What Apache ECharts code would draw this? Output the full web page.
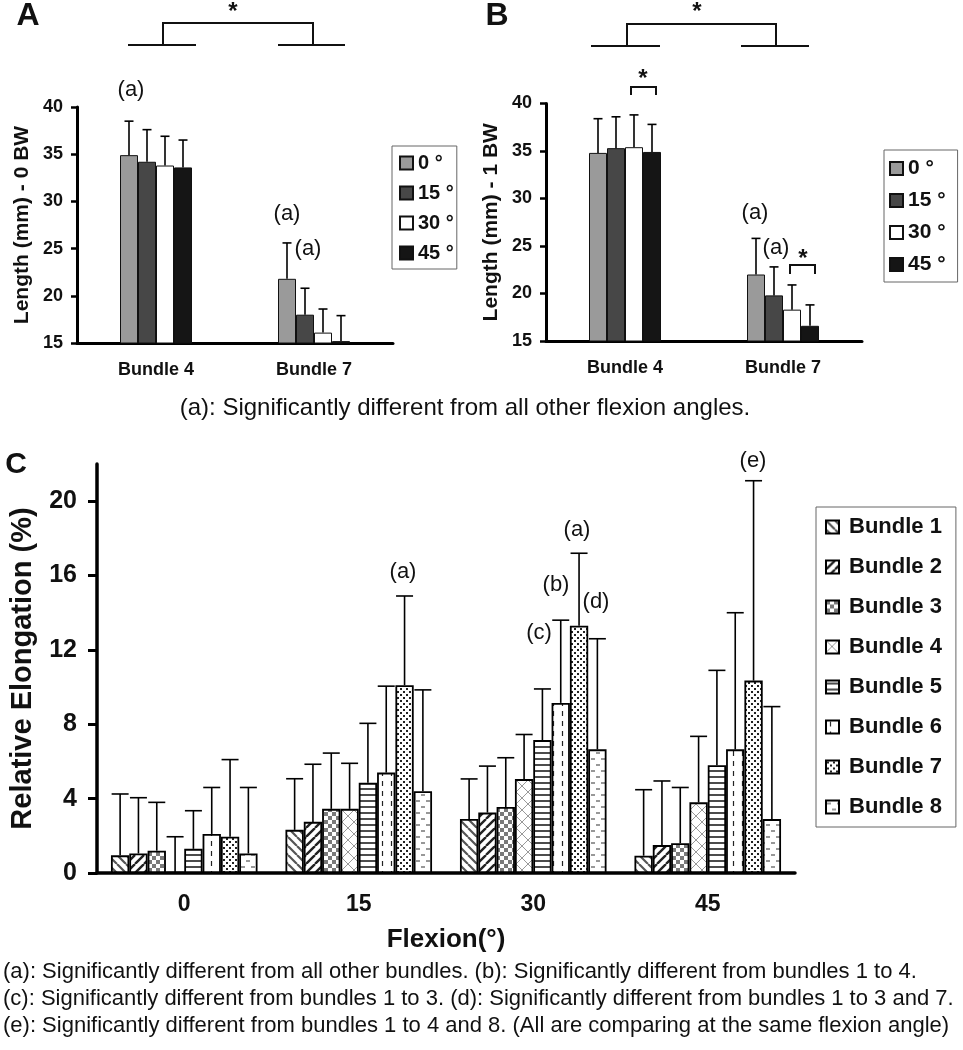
<!DOCTYPE html>
<html>
<head>
<meta charset="utf-8">
<script src="https://cdn.jsdelivr.net/npm/echarts@6/dist/echarts.min.js"></script>
<style>
  html, body { margin: 0; padding: 0; background: #fff; }
  #fig { width: 963px; height: 1050px; }
</style>
</head>
<body>
<div id="fig"></div>
<script>
// panels A / B : bundle length at each flexion angle
var angles = ['0 °', '15 °', '30 °', '45 °'];
var bundlesAB = ['Bundle 4', 'Bundle 7'];
var lenA = [[34.9, 21.8], [34.2, 18.0], [33.8, 16.1], [33.6, 15.2]];   // 0 BW
var sdA  = [[3.6, 3.8], [3.4, 2.8], [3.1, 2.5], [2.9, 2.7]];
var lenB = [[34.8, 22.0], [35.3, 19.8], [35.4, 18.3], [34.9, 16.6]];   // 1 BW
var sdB  = [[3.6, 3.8], [3.3, 3.0], [3.4, 2.6], [2.9, 2.2]];
var angleColors = ['#9a9a9a', '#474747', '#ffffff', '#151515'];

// panel C : relative elongation per bundle
var flexion = ['0', '15', '30', '45'];
var bundles = ['Bundle 1', 'Bundle 2', 'Bundle 3', 'Bundle 4', 'Bundle 5', 'Bundle 6', 'Bundle 7', 'Bundle 8'];
var elong = [
  [0.95, 2.32, 2.91, 0.93],
  [1.05, 2.75, 3.25, 1.5],
  [1.2, 3.45, 3.55, 1.6],
  [0.05, 3.45, 5.05, 3.8],
  [1.3, 4.85, 7.15, 5.8],
  [2.1, 5.4, 9.15, 6.65],
  [1.95, 10.1, 13.3, 10.35],
  [1.05, 4.4, 6.65, 2.9]
];
var elongSd = [
  [3.3, 2.75, 2.15, 3.55],
  [3.0, 3.1, 2.5, 3.45],
  [2.6, 3.0, 2.65, 3.0],
  [1.9, 2.45, 2.4, 3.55],
  [2.05, 3.2, 2.75, 5.1],
  [2.5, 4.65, 4.45, 7.35],
  [4.15, 4.8, 3.9, 10.75],
  [3.55, 5.45, 5.95, 6.05]
];
var yTicksC = [0, 4, 8, 12, 16, 20];

var FONT = '"Liberation Sans", Arial, sans-serif';

// hatch fills
function tile(w, h, draw) {
  var c = document.createElement('canvas');
  c.width = w; c.height = h;
  var g = c.getContext('2d');
  g.fillStyle = '#fff';
  g.fillRect(0, 0, w, h);
  draw(g);
  return { image: c, repeat: 'repeat' };
}
function seg(g, pts) {
  g.beginPath();
  for (var k = 0; k < pts.length; k += 4) { g.moveTo(pts[k], pts[k + 1]); g.lineTo(pts[k + 2], pts[k + 3]); }
  g.stroke();
}
var fills = [
  tile(9, 9, function (g) { g.strokeStyle = '#555'; g.lineWidth = 2.2; seg(g, [-9, 0, 0, 9, 0, 0, 9, 9, 9, 0, 18, 9]); }),
  tile(9, 9, function (g) { g.strokeStyle = '#222'; g.lineWidth = 2.4; seg(g, [-9, 9, 0, 0, 0, 9, 9, 0, 9, 9, 18, 0]); }),
  tile(8, 8, function (g) { g.fillStyle = '#7a7a7a'; g.fillRect(0, 0, 4, 4); g.fillRect(4, 4, 4, 4); }),
  tile(12, 12, function (g) { g.strokeStyle = '#999'; g.lineWidth = 1; seg(g, [0, 0, 12, 12, 0, 12, 12, 0]); }),
  tile(6, 6, function (g) { g.strokeStyle = '#111'; g.lineWidth = 1.5; seg(g, [0, 3, 6, 3]); }),
  tile(9, 10, function (g) { g.strokeStyle = '#222'; g.lineWidth = 1.2; seg(g, [4.5, 1, 4.5, 6]); }),
  tile(6, 6, function (g) { g.fillStyle = '#222'; g.fillRect(1, 1, 2, 2); g.fillRect(4, 4, 2, 2); }),
  tile(10, 12, function (g) { g.strokeStyle = '#333'; g.lineWidth = 1.2; seg(g, [1, 3, 5, 3, 6, 9, 10, 9]); })
];

function errSeries(axisIdx, means, sds, idx, n, bwFn, cap) {
  var data = means.map(function (m, j) { return [j, m, m + sds[j]]; });
  return {
    type: 'custom',
    xAxisIndex: axisIdx, yAxisIndex: axisIdx,
    z: 5,
    data: data,
    renderItem: function (params, api) {
      var base = api.coord([api.value(0), api.value(1)]);
      var top = api.coord([api.value(0), api.value(2)]);
      var bw = bwFn(api);
      var x = base[0] + (idx - (n - 1) / 2) * bw;
      var st = { stroke: '#000', lineWidth: 1.6 };
      return {
        type: 'group',
        children: [
          { type: 'line', shape: { x1: x, y1: base[1], x2: x, y2: top[1] }, style: st },
          { type: 'line', shape: { x1: x - cap / 2, y1: top[1], x2: x + cap / 2, y2: top[1] }, style: st }
        ]
      };
    }
  };
}

var series = [];
[lenA, lenB].forEach(function (lens, p) {
  var sds = p === 0 ? sdA : sdB;
  angles.forEach(function (a, i) {
    series.push({
      name: a, type: 'bar', xAxisIndex: p, yAxisIndex: p,
      barWidth: 18, barGap: '0%',
      itemStyle: { color: angleColors[i], borderColor: '#111', borderWidth: 1 },
      data: lens[i]
    });
  });
  angles.forEach(function (a, i) {
    series.push(errSeries(p, lens[i], sds[i], i, 4, function () { return 18; }, 9));
  });
});
bundles.forEach(function (b, i) {
  series.push({
    name: b, type: 'bar', xAxisIndex: 2, yAxisIndex: 2,
    barGap: '0%', barCategoryGap: '16%',
    itemStyle: { color: fills[i], borderColor: '#000', borderWidth: 1.8 },
    data: elong[i]
  });
});
bundles.forEach(function (b, i) {
  series.push(errSeries(2, elong[i], elongSd[i], i, 8,
    function (api) { return api.size([1, 0])[0] * 0.84 / 8; }, 17));
});

function xAx(idx, data, fs, margin, tickLen) {
  return {
    type: 'category', gridIndex: idx, data: data,
    axisLine: { lineStyle: { color: '#000', width: idx === 2 ? 3.5 : 3 } },
    axisTick: { length: tickLen, lineStyle: { color: '#000', width: idx === 2 ? 3 : 2.5 } },
    axisLabel: { color: '#111', fontWeight: 'bold', fontSize: fs, fontFamily: FONT, margin: margin }
  };
}
function txt(t, x, y, size, bold, align) {
  return {
    type: 'text',
    style: {
      text: t, x: x, y: y, fill: '#111',
      font: (bold ? 'bold ' : '') + size + 'px ' + FONT,
      textAlign: align || 'center', textVerticalAlign: 'middle'
    }
  };
}
function poly(pts) {
  return { type: 'polyline', shape: { points: pts }, style: { stroke: '#111', lineWidth: 2, fill: null } };
}

var chart = echarts.init(document.getElementById('fig'));
chart.setOption({
  backgroundColor: '#fff',
  animation: false,
  grid: [
    { left: 77, top: 107, width: 316, height: 236 },
    { left: 546, top: 103.5, width: 316, height: 237.5 },
    { left: 97, top: 464, width: 698, height: 409 }
  ],
  xAxis: [
    xAx(0, bundlesAB, 18, 18, 6),
    xAx(1, bundlesAB, 18, 18, 6),
    Object.assign(xAx(2, flexion, 23, 20, 9), {
      name: 'Flexion(°)', nameLocation: 'middle', nameGap: 54,
      nameTextStyle: { color: '#111', fontWeight: 'bold', fontSize: 26, fontFamily: FONT }
    })
  ],
  yAxis: [0, 1].map(function (p) {
    return {
      type: 'value', gridIndex: p, min: 15, max: 40, interval: 5,
      name: 'Length (mm) - ' + p + ' BW', nameLocation: 'middle', nameGap: 44,
      nameTextStyle: { color: '#111', fontWeight: 'bold', fontSize: 21, fontFamily: FONT },
      splitLine: { show: false },
      axisLine: { show: true, lineStyle: { color: '#000', width: 3 } },
      axisTick: { show: true, length: 6, lineStyle: { color: '#000', width: 2.5 } },
      axisLabel: { color: '#111', fontWeight: 'bold', fontSize: 18, fontFamily: FONT, margin: 14 }
    };
  }).concat([{
    type: 'value', gridIndex: 2, min: 0, max: 22,
    name: 'Relative Elongation (%)', nameLocation: 'middle', nameGap: 60,
    nameTextStyle: { color: '#111', fontWeight: 'bold', fontSize: 29, fontFamily: FONT },
    splitLine: { show: false },
    axisLine: { show: true, lineStyle: { color: '#000', width: 3.5 } },
    axisTick: { show: true, length: 9, customValues: yTicksC, lineStyle: { color: '#000', width: 3 } },
    axisLabel: { color: '#111', fontWeight: 'bold', fontSize: 25, fontFamily: FONT, margin: 20, customValues: yTicksC }
  }]),
  legend: [
    {
      data: angles, orient: 'vertical', left: 392, top: 146,
      padding: [7, 3, 6, 7], itemGap: 10, itemWidth: 13, itemHeight: 13, icon: 'rect',
      borderColor: '#666', borderWidth: 1, selectedMode: false,
      textStyle: { color: '#111', fontWeight: 'bold', fontSize: 20, lineHeight: 20, fontFamily: FONT }
    },
    {
      data: angles, orient: 'vertical', left: 884, top: 150,
      padding: [8, 12, 7, 5], itemGap: 11, itemWidth: 13, itemHeight: 13, icon: 'rect',
      borderColor: '#666', borderWidth: 1, selectedMode: false,
      textStyle: { color: '#111', fontWeight: 'bold', fontSize: 21, lineHeight: 20, fontFamily: FONT }
    },
    {
      data: bundles, orient: 'vertical', left: 816, top: 507,
      padding: [9, 14, 9, 9], itemGap: 18, itemWidth: 13, itemHeight: 13, icon: 'rect',
      borderColor: '#666', borderWidth: 1, selectedMode: false,
      textStyle: { color: '#111', fontWeight: 'bold', fontSize: 22, lineHeight: 22, fontFamily: FONT, padding: [0, 0, 0, 5] }
    }
  ],
  series: series,
  graphic: [
    txt('A', 28, 16, 32, true),
    txt('B', 497, 16, 32, true),
    txt('C', 16, 465, 30, true),
    // bundle 4 vs bundle 7
    poly([[128, 45], [196, 45]]), poly([[278, 45], [345, 45]]),
    poly([[163, 45], [163, 23], [313, 23], [313, 45]]),
    txt('*', 233, 12, 24, true),
    poly([[591, 46], [660, 46]]), poly([[741, 46], [809, 46]]),
    poly([[627, 46], [627, 24], [776, 24], [776, 46]]),
    txt('*', 697, 12, 24, true),
    poly([[631, 95], [631, 87], [656, 87], [656, 95]]),
    txt('*', 643, 79, 24, true),
    poly([[790, 274], [790, 265], [815, 265], [815, 274]]),
    txt('*', 803, 259, 24, true),
    txt('(a)', 131, 90, 22),
    txt('(a)', 287, 214, 22),
    txt('(a)', 308, 249, 22),
    txt('(a)', 755, 213, 22),
    txt('(a)', 776, 248, 22),
    txt('(a): Significantly different from all other flexion angles.', 465, 408, 24),
    txt('(a)', 403, 572, 22),
    txt('(a)', 577, 530, 22),
    txt('(b)', 556, 585, 22),
    txt('(c)', 539, 633, 22),
    txt('(d)', 596, 602, 22),
    txt('(e)', 753, 461, 22),
    txt('(a): Significantly different from all other bundles. (b): Significantly different from bundles 1 to 4.', 3, 972, 22, false, 'left'),
    txt('(c): Significantly different from bundles 1 to 3. (d): Significantly different from bundles 1 to 3 and 7.', 3, 999, 22, false, 'left'),
    txt('(e): Significantly different from bundles 1 to 4 and 8. (All are comparing at the same flexion angle)', 3, 1026, 22, false, 'left')
  ]
});
</script>
</body>
</html>
